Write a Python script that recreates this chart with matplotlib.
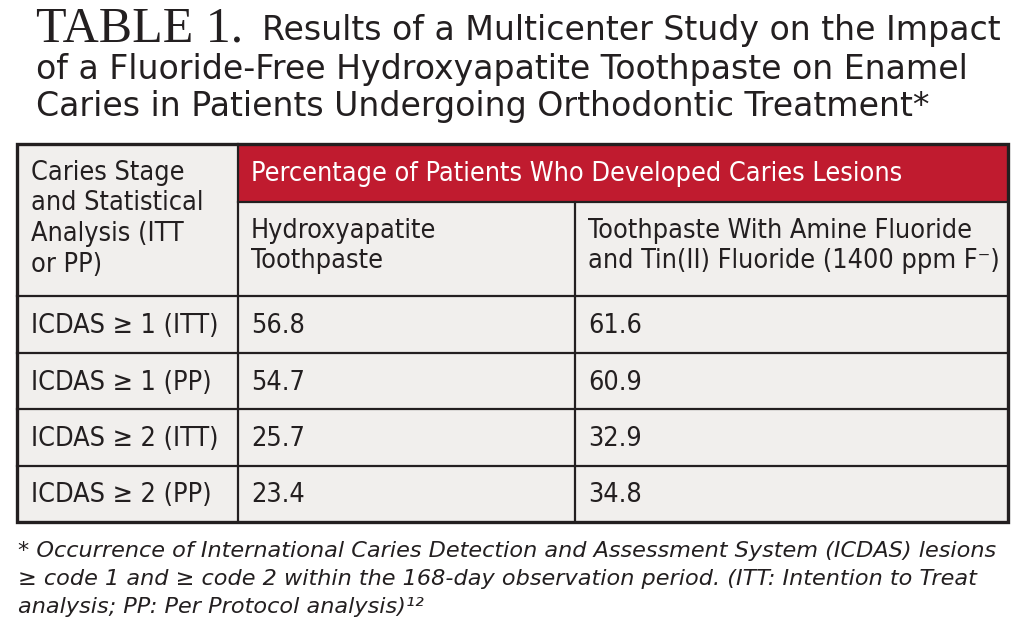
import matplotlib.pyplot as plt
from matplotlib.patches import Rectangle

# table content
title_lines = ["Results of a Multicenter Study on the Impact",
               "of a Fluoride-Free Hydroxyapatite Toothpaste on Enamel",
               "Caries in Patients Undergoing Orthodontic Treatment*"]
group_header = "Percentage of Patients Who Developed Caries Lesions"
first_header = ["Caries Stage", "and Statistical", "Analysis (ITT", "or PP)"]
col_headers = [["Hydroxyapatite", "Toothpaste"],
               ["Toothpaste With Amine Fluoride", "and Tin(II) Fluoride (1400 ppm F\u207b)"]]
stages = ["ICDAS \u2265 1 (ITT)", "ICDAS \u2265 1 (PP)", "ICDAS \u2265 2 (ITT)", "ICDAS \u2265 2 (PP)"]
hydroxyapatite = [56.8, 54.7, 25.7, 23.4]
fluoride = [61.6, 60.9, 32.9, 34.8]
footnote = ["* Occurrence of International Caries Detection and Assessment System (ICDAS) lesions",
            "\u2265 code 1 and \u2265 code 2 within the 168-day observation period. (ITT: Intention to Treat",
            "analysis; PP: Per Protocol analysis)\u00b9\u00b2"]

RED = "#c01b2f"
GREY = "#f1efed"
INK = "#231f20"

fig = plt.figure(figsize=(10.31, 6.39), dpi=100)
ax = fig.add_axes([0, 0, 1, 1])
ax.set_xlim(0, 1031)
ax.set_ylim(639, 0)
ax.axis("off")

# title
ax.text(36, 42, "TABLE 1.", family="Liberation Serif", fontsize=36, color=INK, va="baseline")
ax.text(262, 40, title_lines[0], family="DejaVu Sans", fontsize=23.9, color=INK, va="baseline")
for i, line in enumerate(title_lines[1:]):
    ax.text(36, 79 + 37 * i, line, family="DejaVu Sans", fontsize=23.9, color=INK, va="baseline")

# grid geometry
x0, x1, x2, x3 = 17, 238, 575, 1008
y_top, y_red, y_head = 144, 202, 296
row_h = 56.5
n = len(stages)
y_bot = y_head + row_h * n

ax.add_patch(Rectangle((x0, y_top), x3 - x0, y_bot - y_top, facecolor=GREY, edgecolor="none"))
ax.add_patch(Rectangle((x1, y_top), x3 - x1, y_red - y_top, facecolor=RED, edgecolor="none"))

lw_in = 1.6
ax.plot([x1, x1], [y_top, y_bot], color=INK, lw=lw_in)
ax.plot([x2, x2], [y_red, y_bot], color=INK, lw=lw_in)
ax.plot([x1, x3], [y_red, y_red], color=INK, lw=lw_in)
for i in range(n):
    y = y_head + row_h * i
    ax.plot([x0, x3], [y, y], color=INK, lw=lw_in)
ax.add_patch(Rectangle((x0, y_top), x3 - x0, y_bot - y_top, facecolor="none", edgecolor=INK, lw=2.4))

# header text
cell = dict(family="DejaVu Sans", fontstretch="condensed", fontsize=19.4, va="baseline")
for i, line in enumerate(first_header):
    ax.text(31, 180 + 30.5 * i, line, color=INK, **cell)
ax.text(251, 181, group_header, color="white", **cell)
for xc, lines in zip([251, 588], col_headers):
    for i, line in enumerate(lines):
        ax.text(xc, 238 + 30.5 * i, line, color=INK, **cell)

# body
for i in range(n):
    yb = y_head + row_h * i + 37
    ax.text(31, yb, stages[i], color=INK, **cell)
    ax.text(251, yb, f"{hydroxyapatite[i]:.1f}", color=INK, **cell)
    ax.text(588, yb, f"{fluoride[i]:.1f}", color=INK, **cell)

# footnote
for i, line in enumerate(footnote):
    ax.text(18, 557 + 28 * i, line, family="DejaVu Sans", style="oblique",
            fontsize=16.1, color=INK, va="baseline")

fig.savefig("out.png", dpi=100)
